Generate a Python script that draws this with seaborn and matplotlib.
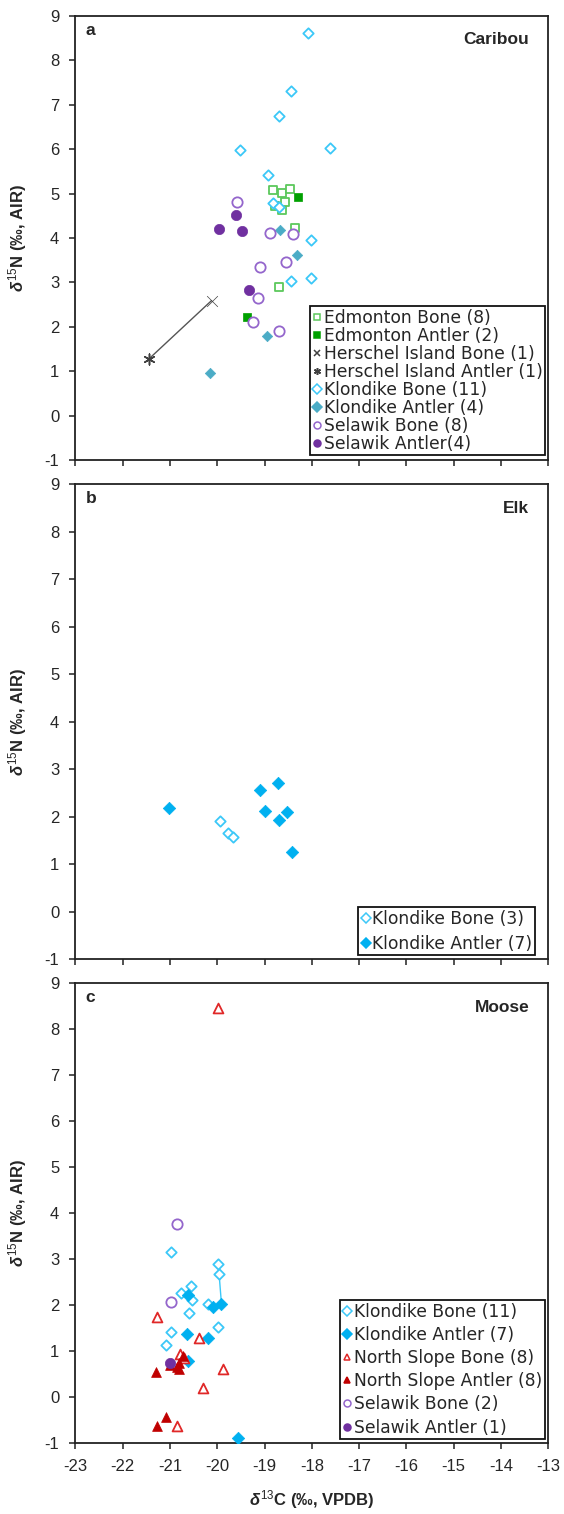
import matplotlib
matplotlib.use("Agg")
import matplotlib.pyplot as plt
from matplotlib.lines import Line2D
import seaborn as sns

sns.set_theme(style="white")
plt.rcParams["font.family"] = ["Liberation Sans", "DejaVu Sans"]
plt.rcParams["axes.unicode_minus"] = False
plt.rcParams["mathtext.fontset"] = "custom"
plt.rcParams["mathtext.rm"] = "Liberation Sans"
plt.rcParams["mathtext.bf"] = "Liberation Sans:bold"
plt.rcParams["mathtext.it"] = "Liberation Sans:italic:bold"

# ---------------- Caribou (panel a) ----------------
edm_bone_c = [-18.83, -18.64, -18.46, -18.78, -18.64, -18.57, -18.36, -18.69]
edm_bone_n = [5.07, 5.01, 5.10, 4.71, 4.63, 4.82, 4.22, 2.90]
edm_antler_c = [-18.29, -19.38]
edm_antler_n = [4.93, 2.23]
hers_bone_c = [-20.12]
hers_bone_n = [2.59]
hers_antler_c = [-21.45]
hers_antler_n = [1.27]
klo_bone_a_c = [-18.09, -18.43, -18.69, -19.52, -17.61, -18.92, -18.81, -18.02, -18.43, -18.02, -18.70]
klo_bone_a_n = [8.61, 7.31, 6.74, 5.98, 6.03, 5.42, 4.78, 3.95, 3.04, 3.11, 4.70]
klo_antler_a_c = [-18.67, -18.32, -18.95, -20.15]
klo_antler_a_n = [4.18, 3.62, 1.79, 0.95]
sel_bone_a_c = [-19.59, -18.88, -18.39, -19.10, -18.55, -19.13, -19.24, -18.69]
sel_bone_a_n = [4.80, 4.11, 4.08, 3.34, 3.47, 2.64, 2.11, 1.91]
sel_antler_a_c = [-19.60, -19.96, -19.47, -19.32]
sel_antler_a_n = [4.52, 4.20, 4.16, 2.84]

# ---------------- Elk (panel b) ----------------
klo_bone_b_c = [-19.94, -19.78, -19.66]
klo_bone_b_n = [1.91, 1.65, 1.58]
klo_antler_b_c = [-21.01, -19.10, -18.72, -18.99, -18.53, -18.69, -18.42]
klo_antler_b_n = [2.19, 2.56, 2.71, 2.12, 2.10, 1.93, 1.26]

# ---------------- Moose (panel c) ----------------
klo_bone_c_c = [-20.98, -19.98, -19.96, -20.56, -20.77, -20.54, -20.19, -20.59, -19.98, -20.98, -21.09]
klo_bone_c_n = [3.15, 2.89, 2.68, 2.43, 2.26, 2.12, 2.02, 1.84, 1.53, 1.43, 1.14]
klo_antler_c_c = [-20.61, -20.08, -19.91, -20.63, -20.19, -19.57, -20.62]
klo_antler_c_n = [2.22, 1.97, 2.03, 1.37, 1.28, -0.89, 0.80]
ns_bone_c = [-19.99, -21.27, -20.38, -19.88, -20.30, -20.86, -20.78, -20.70]
ns_bone_n = [8.46, 1.75, 1.28, 0.62, 0.20, -0.63, 0.95, 0.85]
ns_antler_c = [-21.28, -21.09, -21.30, -20.80, -20.72, -20.80, -21.00, -20.85]
ns_antler_n = [-0.63, -0.43, 0.55, 0.62, 0.90, 0.75, 0.70, 0.65]
sel_bone_c_c = [-20.86, -20.98]
sel_bone_c_n = [3.77, 2.07]
sel_antler_c_c = [-21.00]
sel_antler_c_n = [0.75]
# bone/antler pair of one Klondike moose joined by a line
pair_c = [-19.96, -19.91]
pair_n = [2.68, 2.03]

x_ticks = list(range(-23, -12))
y_ticks = list(range(-1, 10))

# colours
LBLUE = "#3CC8F8"
TEAL = "#4BACC6"
BBLUE = "#00B0F0"
LGREEN = "#5CC85C"
DGREEN = "#00A000"
GREY = "#404040"
LPURP = "#9466CC"
DPURP = "#7030A0"
LRED = "#E02828"
DRED = "#C00000"

fig = plt.figure(figsize=(5.64, 15.14), dpi=100)
L, W = 75.3 / 564, 473 / 564
H = 1514
ax_a = fig.add_axes([L, 1 - 460 / H, W, 444 / H])
ax_b = fig.add_axes([L, 1 - 959 / H, W, 474.8 / H])
ax_c = fig.add_axes([L, 1 - 1443.3 / H, W, 460 / H])


def pts(ax, xs, ys, marker, color, s, filled, lw=1.3, z=3):
    if filled:
        sns.scatterplot(x=xs, y=ys, ax=ax, marker=marker, s=s, color=color,
                        edgecolor=color, linewidth=0.5, zorder=z)
    else:
        sns.scatterplot(x=xs, y=ys, ax=ax, marker=marker, s=s, color=color,
                        facecolor="white", edgecolor=color, linewidth=lw, zorder=z)


def style(ax, letter, title, show_x):
    ax.set_xlim(-23, -13)
    ax.set_ylim(-1, 9)
    ax.set_xticks(x_ticks)
    ax.set_yticks(y_ticks)
    for sp in ax.spines.values():
        sp.set_color("#222222")
        sp.set_linewidth(1.3)
    ax.tick_params(axis="both", direction="out", length=4.5, width=1.1,
                   color="#222222", labelsize=12, pad=7,
                   left=True, bottom=True, top=False, right=False)
    if not show_x:
        ax.tick_params(axis="x", labelbottom=False)
    ax.set_ylabel(r"$\mathit{\delta}^{\mathrm{15}}$N (‰, AIR)", fontsize=12,
                  fontweight="bold")
    ax.yaxis.set_label_coords(-0.098, 0.5)
    ax.set_xlabel("")
    ax.grid(False)
    ax.text(0.022, 0.985, letter, transform=ax.transAxes, ha="left", va="top",
            fontsize=12.5, fontweight="bold")
    ax.text(0.96, 0.948, title, transform=ax.transAxes, ha="right", va="center",
            fontsize=12.5, fontweight="bold")


def legend(ax, entries, anchor, spacing, size):
    handles = []
    for label, marker, color, filled in entries:
        handles.append(Line2D([], [], linestyle="none", marker=marker, markersize=5,
                              markeredgecolor=color,
                              markerfacecolor=color if filled else "white",
                              markeredgewidth=1.1, label=label))
    leg = ax.legend(handles=handles, loc="lower right", bbox_to_anchor=anchor,
                    borderaxespad=0, frameon=True, fancybox=False,
                    prop={"family": "DejaVu Sans", "size": size},
                    handlelength=0.55, handletextpad=0.12, borderpad=0.15,
                    labelspacing=spacing, framealpha=1)
    leg.get_frame().set_edgecolor("#111111")
    leg.get_frame().set_linewidth(1.3)
    return leg


# ---- panel a ----
sns.lineplot(x=hers_bone_c + hers_antler_c, y=hers_bone_n + hers_antler_n, ax=ax_a,
             color="#555555", linewidth=1.0, sort=False, estimator=None, zorder=2)
pts(ax_a, edm_bone_c, edm_bone_n, "s", LGREEN, 40, False)
pts(ax_a, edm_antler_c, edm_antler_n, "s", DGREEN, 40, True)
pts(ax_a, hers_bone_c, hers_bone_n, "x", GREY, 60, True, z=3)
sns.scatterplot(x=hers_antler_c, y=hers_antler_n, ax=ax_a, marker=(6, 2, 0), s=60,
                color=GREY, linewidth=1.1, zorder=3)
pts(ax_a, klo_bone_a_c, klo_bone_a_n, "D", LBLUE, 28, False)
pts(ax_a, klo_antler_a_c, klo_antler_a_n, "D", TEAL, 28, True)
pts(ax_a, sel_bone_a_c, sel_bone_a_n, "o", LPURP, 55, False)
pts(ax_a, sel_antler_a_c, sel_antler_a_n, "o", DPURP, 55, True)
style(ax_a, "a", "Caribou", False)
legend(ax_a, [
    ("Edmonton Bone (8)", "s", LGREEN, False),
    ("Edmonton Antler (2)", "s", DGREEN, True),
    ("Herschel Island Bone (1)", "x", GREY, True),
    ("Herschel Island Antler (1)", (6, 2, 0), GREY, True),
    ("Klondike Bone (11)", "D", LBLUE, False),
    ("Klondike Antler (4)", "D", TEAL, True),
    ("Selawik Bone (8)", "o", LPURP, False),
    ("Selawik Antler(4)", "o", DPURP, True),
], (0.993, 0.011), 0.0, 12.3)

# ---- panel b ----
pts(ax_b, klo_bone_b_c, klo_bone_b_n, "D", LBLUE, 28, False)
pts(ax_b, klo_antler_b_c, klo_antler_b_n, "D", BBLUE, 40, True)
style(ax_b, "b", "Elk", False)
legend(ax_b, [
    ("Klondike Bone (3)", "D", LBLUE, False),
    ("Klondike Antler (7)", "D", BBLUE, True),
], (0.972, 0.008), 0.4, 12.3)

# ---- panel c ----
sns.lineplot(x=pair_c, y=pair_n, ax=ax_c, color=LBLUE, linewidth=1.0, sort=False,
             estimator=None, zorder=2)
pts(ax_c, klo_bone_c_c, klo_bone_c_n, "D", LBLUE, 28, False)
pts(ax_c, klo_antler_c_c, klo_antler_c_n, "D", BBLUE, 40, True)
pts(ax_c, ns_bone_c, ns_bone_n, "^", LRED, 50, False)
pts(ax_c, ns_antler_c, ns_antler_n, "^", DRED, 50, True)
pts(ax_c, sel_bone_c_c, sel_bone_c_n, "o", LPURP, 55, False)
pts(ax_c, sel_antler_c_c, sel_antler_c_n, "o", DPURP, 55, True)
style(ax_c, "c", "Moose", True)
ax_c.set_xlabel(r"$\mathit{\delta}^{\mathrm{13}}$C (‰, VPDB)", fontsize=12,
                fontweight="bold", labelpad=10)
legend(ax_c, [
    ("Klondike Bone (11)", "D", LBLUE, False),
    ("Klondike Antler (7)", "D", BBLUE, True),
    ("North Slope Bone (8)", "^", LRED, False),
    ("North Slope Antler (8)", "^", DRED, True),
    ("Selawik Bone (2)", "o", LPURP, False),
    ("Selawik Antler (1)", "o", DPURP, True),
], (0.993, 0.009), 0.3, 12.3)

fig.savefig("out.png", dpi=100)
